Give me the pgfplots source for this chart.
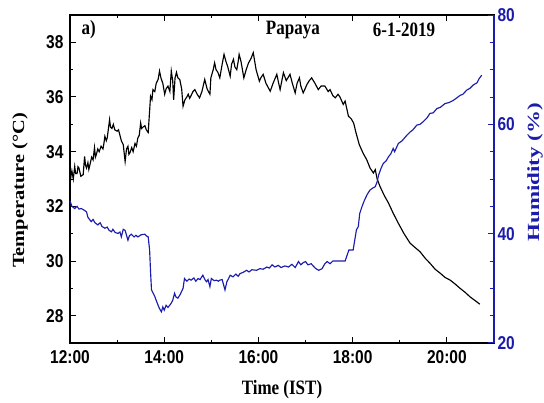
\documentclass[border=0pt]{standalone}
\usepackage{fontspec}
\setmainfont{Liberation Serif}
\newfontfamily\arial{Liberation Sans}
\usepackage{graphicx}
\usepackage{pgfplots}
\pgfplotsset{compat=1.18}
\definecolor{hblue}{RGB}{28,28,172}
\newcommand{\vs}[1]{\scalebox{1}[1.2]{#1}}
\newcommand{\tfont}{\arial\bfseries\fontsize{15.5}{17}\selectfont}
\newcommand{\lfont}{\bfseries\fontsize{17}{19}\selectfont}
\begin{document}
\begin{tikzpicture}
\path[use as bounding box] (-70pt,-59pt) rectangle (474pt,343pt);
\begin{axis}[
  at={(0pt,0pt)}, anchor=south west,
  scale only axis, width=424pt, height=328pt,
  xmin=12, xmax=21, ymin=27, ymax=39,
  xtick={12,14,16,18,20},
  xticklabels={\vs{12:00},\vs{14:00},\vs{16:00},\vs{18:00},\vs{20:00}},
  minor x tick num=1,
  ytick={28,30,32,34,36,38},
  yticklabel={\vs{\pgfmathprintnumber{\tick}}},
  minor y tick num=1,
  xtick pos=both, ytick pos=left,
  tick align=inside,
  major tick length=6pt, minor tick length=3.5pt,
  tick style={line width=1pt, black},
  axis line style={line width=1.2pt},
  tick label style={font=\tfont},
  xticklabel style={yshift=-4pt},
  yticklabel style={xshift=-3pt},
  /pgf/number format/assume math mode=true,
  xlabel={\vs{Time (IST)}},
  every axis x label/.style={at={(axis description cs:0.5,0)}, anchor=center, yshift=-47pt, font=\lfont},
  ylabel={\scalebox{1.2}[1]{Temperature (°C)}},
  every axis y label/.style={at={(axis description cs:0,0.465)}, xshift=-50pt, rotate=90, anchor=center, font=\lfont},
  clip=false,
]
\addplot[black, line width=1.15pt] coordinates {
(12.00,32.8)(12.02,33.1)(12.04,33.3)(12.07,33.0)(12.10,33.46)(12.12,33.2)(12.15,33.2)(12.17,33.45)(12.19,33.4)(12.23,33.1)(12.28,33.16)(12.31,33.83)
(12.33,33.5)(12.35,33.4)(12.38,33.6)(12.40,33.35)(12.42,33.5)(12.46,33.8)(12.49,33.7)(12.52,34.15)(12.54,33.8)(12.56,33.9)(12.59,34.1)(12.62,34.0)(12.66,34.2)
(12.70,34.1)(12.72,34.3)(12.74,34.56)(12.77,34.4)(12.79,34.5)(12.84,35.17)(12.86,34.9)(12.89,34.85)(12.92,35.0)(12.95,34.8)(13.00,34.75)(13.03,34.8)(13.06,34.6)
(13.09,34.4)(13.13,34.26)(13.17,33.64)(13.20,34.1)(13.23,34.2)(13.25,33.9)(13.27,33.95)(13.31,34.15)(13.34,34.0)
(13.38,34.3)(13.41,34.2)(13.44,34.5)(13.47,34.6)(13.50,35.05)(13.52,34.85)(13.55,34.9)(13.59,34.95)(13.62,34.8)(13.66,34.7)(13.71,36.03)(13.74,35.9)
(13.76,36.27)(13.80,36.2)(13.83,36.5)(13.87,36.64)(13.90,36.95)(13.93,36.7)(13.97,36.5)(14.01,36.1)(14.04,36.3)
(14.08,36.4)(14.12,36.2)(14.15,36.95)(14.18,36.6)(14.20,35.9)(14.23,36.7)(14.26,36.9)(14.29,36.7)
(14.33,36.64)(14.37,36.3)(14.40,35.66)(14.44,35.9)(14.48,36.0)(14.51,36.1)(14.54,35.95)(14.57,36.05)(14.61,36.2)(14.65,36.27)(14.70,36.1)
(14.75,35.97)(14.80,36.2)(14.86,36.64)(14.91,36.3)(14.97,36.1)(14.99,36.7)(15.04,37.0)(15.07,37.25)
(15.10,37.0)(15.14,36.9)(15.18,36.7)(15.23,37.2)(15.27,37.56)(15.31,37.3)(15.35,37.1)(15.40,36.76)
(15.43,37.2)(15.47,37.38)(15.50,37.1)(15.54,37.0)(15.57,37.3)(15.59,37.56)(15.63,37.3)(15.69,36.7)
(15.74,37.0)(15.79,37.25)(15.84,37.4)(15.89,37.62)(15.95,37.0)(16.02,36.58)(16.05,36.7)(16.10,36.83)
(16.16,36.5)(16.25,36.21)(16.31,36.5)(16.39,36.83)(16.43,36.5)(16.46,36.27)(16.53,36.89)(16.59,36.6)
(16.67,36.83)(16.72,36.5)(16.78,36.15)(16.82,36.5)(16.87,36.7)(16.90,36.4)(16.95,36.15)(16.99,36.3)
(17.03,36.46)(17.08,36.6)(17.13,36.7)(17.20,36.5)(17.27,36.27)(17.33,36.4)(17.41,36.4)(17.48,36.2)
(17.52,36.27)(17.58,36.05)(17.63,35.97)(17.69,36.1)(17.73,36.0)(17.80,35.73)(17.84,35.85)(17.91,35.3)
(17.97,35.2)(18.02,35.05)(18.07,34.7)(18.14,34.26)(18.22,33.95)(18.30,33.7)(18.37,33.4)(18.44,33.22)
(18.48,33.34)(18.52,33.0)(18.58,32.73)(18.67,32.4)(18.76,32.12)(18.86,31.75)(18.97,31.38)(19.09,31.0)
(19.22,30.65)(19.32,30.5)(19.43,30.34)(19.54,30.1)(19.64,29.92)(19.75,29.7)(19.86,29.55)(19.96,29.4)
(20.07,29.3)(20.18,29.15)(20.28,29.0)(20.39,28.85)(20.49,28.69)(20.60,28.55)(20.70,28.42)
};
\node[anchor=west, font=\lfont] at (axis cs:12.17,38.45) {\vs{a)}};
\node[font=\lfont] at (axis cs:16.73,38.45) {\vs{Papaya}};
\node[font=\lfont] at (axis cs:19.09,38.45) {\vs{6-1-2019}};
\end{axis}
\begin{axis}[
  at={(0pt,0pt)}, anchor=south west,
  scale only axis, width=424pt, height=328pt,
  xmin=12, xmax=21, ymin=20, ymax=80,
  axis x line=none, axis y line*=right,
  ytick={20,40,60,80},
  yticklabel={\vs{\pgfmathprintnumber{\tick}}},
  minor y tick num=3,
  ytick pos=right,
  tick align=inside,
  major tick length=6pt, minor tick length=3.5pt,
  tick style={line width=1pt, hblue},
  axis line style={line width=1.2pt, hblue},
  tick label style={font=\tfont, text=hblue},
  /pgf/number format/assume math mode=true,
  ylabel={\scalebox{1.35}[1]{Humidity (\%)}},
  every axis y label/.style={at={(axis description cs:1,0.52)}, xshift=41pt, rotate=90, anchor=center, font=\lfont, text=hblue},
  clip=false,
]
\addplot[hblue, line width=1.15pt] coordinates {
(12.00,46.0)(12.04,45.0)(12.10,44.6)(12.15,45.0)(12.19,44.5)(12.24,44.6)(12.30,44.3)(12.35,44.0)
(12.38,43.0)(12.45,42.2)(12.49,42.6)(12.53,42.0)(12.59,41.6)(12.64,42.0)(12.68,41.3)(12.74,41.0)
(12.79,41.2)(12.83,40.6)(12.88,40.35)(12.91,40.8)(12.96,40.2)(13.02,40.05)(13.06,40.3)(13.09,39.4)
(13.13,40.8)(13.17,40.6)(13.23,38.8)(13.26,39.6)(13.30,39.9)(13.36,39.4)(13.40,39.7)(13.44,39.4)
(13.51,39.8)(13.59,39.9)(13.62,39.6)(13.66,39.4)(13.69,37.0)(13.71,33.0)(13.73,29.7)(13.76,29.2)
(13.80,28.5)(13.83,27.8)(13.87,26.9)(13.90,26.3)(13.94,25.7)(13.97,26.6)(14.00,26.0)(14.04,26.9)
(14.08,26.5)(14.15,27.3)(14.18,27.8)(14.22,29.1)(14.25,28.4)(14.29,28.2)(14.34,28.9)(14.40,30.0)
(14.43,31.8)(14.48,31.3)(14.53,31.7)(14.57,31.5)(14.63,31.9)(14.67,31.3)(14.72,31.8)(14.76,31.6)
(14.82,32.4)(14.87,31.5)(14.90,31.2)(14.93,31.6)(14.97,30.3)(15.00,31.8)(15.06,31.4)(15.11,31.5)
(15.15,31.3)(15.18,31.5)(15.23,31.6)(15.29,29.7)(15.33,31.2)(15.40,32.4)(15.46,32.1)(15.52,32.6)
(15.57,32.2)(15.61,32.7)(15.67,32.9)(15.75,33.3)(15.80,33.0)(15.86,33.4)(15.96,33.3)(16.03,33.6)
(16.10,33.5)(16.18,33.9)(16.23,33.7)(16.29,34.3)(16.35,33.9)(16.42,34.2)(16.48,33.8)(16.56,34.1)
(16.64,33.9)(16.71,34.4)(16.78,33.8)(16.85,34.9)(16.90,34.3)(16.95,34.7)(17.00,34.9)(17.05,34.3)
(17.12,34.5)(17.21,33.65)(17.28,33.3)(17.35,33.6)(17.41,34.5)(17.46,34.9)(17.52,34.5)(17.58,35.0)
(17.63,35.0)(17.84,35.0)(17.88,36.0)(17.92,37.0)(18.01,37.0)(18.08,40.7)(18.12,41.3)(18.15,43.7)
(18.20,45.0)(18.25,46.1)(18.31,47.2)(18.37,48.0)(18.42,48.3)(18.48,48.6)(18.52,49.5)(18.55,50.7)
(18.60,51.9)(18.65,52.85)(18.71,53.3)(18.76,54.06)(18.81,54.6)(18.86,55.6)(18.89,55.0)(18.97,56.5)
(19.05,57.0)(19.15,58.0)(19.22,58.6)(19.28,59.0)(19.36,59.85)(19.43,60.0)(19.50,60.5)(19.58,61.2)
(19.64,62.0)(19.71,62.1)(19.79,62.9)(19.86,63.1)(19.96,63.8)(20.05,64.0)(20.14,64.4)(20.22,64.9)
(20.28,65.3)(20.34,65.5)(20.42,66.25)(20.49,66.6)(20.56,67.2)(20.64,67.6)(20.68,68.3)(20.74,69.0)
};
\end{axis}
\end{tikzpicture}
\end{document}
